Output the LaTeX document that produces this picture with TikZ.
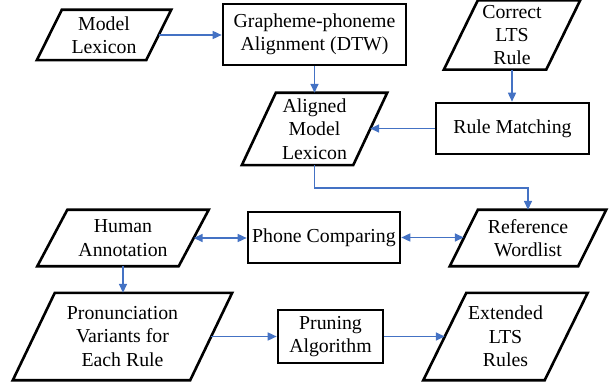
\documentclass[tikz,border=0pt]{standalone}
\usepackage{fontspec}
\setmainfont{Liberation Serif}
\usepackage{tikz}
\usetikzlibrary{arrows.meta}

\definecolor{flowblue}{RGB}{68,114,196}

\begin{document}
\begin{tikzpicture}[x=1pt,y=-1pt]
    \tikzstyle{txt}=[font=\fontsize{19.8}{23.3}\selectfont,align=center,inner sep=0pt]
    \tikzstyle{proc}=[txt,rectangle,draw,line width=2.6pt]
    \tikzstyle{io}=[txt,rectangle]
    \tikzstyle{ioedge}=[line width=2.6pt,line join=miter]
    \tikzstyle{flow}=[flowblue,line width=1.5pt,-{Triangle[length=9pt,width=8pt]}]
    \tikzstyle{both}=[flowblue,line width=1.5pt,{Triangle[length=9pt,width=8pt]}-{Triangle[length=9pt,width=8pt]}]
    \useasboundingbox (0,0) rectangle (611,385);
    % top part
    \node (ml)  at (104,35)      [io,minimum width=109,minimum height=50] {Model\\Lexicon};
    \node (gpa) at (314.5,34.5)  [proc,minimum width=183,minimum height=61] {Grapheme-phoneme\\Alignment (DTW)};
    \node (lts) at (512,35)      [io,minimum width=102,minimum height=69] {Correct\\LTS\\Rule};
    \node (alm) at (314.5,129)   [io,minimum width=111,minimum height=72] {Aligned\\Model\\Lexicon};
    \node (rm)  at (512.5,128.5) [proc,minimum width=153,minimum height=51] {Rule Matching};
    % bottom part
    \node (ha)  at (123,238)     [io,minimum width=141,minimum height=56] {Human\\Annotation};
    \node (pc)  at (324,237.5)   [proc,minimum width=152,minimum height=51] {Phone Comparing};
    \node (rw)  at (528,238)     [io,minimum width=128,minimum height=56] {Reference\\Wordlist};
    \node (pv)  at (122.5,336.5) [io,minimum width=177,minimum height=87] {Pronunciation\\Variants for\\Each Rule};
    \node (pa)  at (330.5,336.5) [proc,minimum width=105,minimum height=53] {Pruning\\Algorithm};
    \node (elr) at (505.5,336.5) [io,minimum width=121,minimum height=87] {Extended\\LTS\\Rules};
    % slanted input/output boxes
    \foreach \n/\s in {ml/12.5,lts/17,alm/17,ha/15,rw/14,pv/21,elr/21.5}
        \draw [ioedge] ([xshift=-\s pt]\n.south west) -- ([xshift=-\s pt]\n.south east)
            -- ([xshift=\s pt]\n.north east) -- ([xshift=\s pt]\n.north west) -- cycle;
    \coordinate (bend) at (0,188);
    \draw [flow] (ml.east) -- (ml.east -| gpa.west);
    \draw [flow] (gpa.south) -- (alm.north);
    \draw [flow] (lts.south) -- (lts.south |- rm.north);
    \draw [flow] (rm.west) -- (rm.west -| alm.east);
    \draw [flow] (alm.south) -- (alm.south |- bend) -| (rw.north);
    \draw [both] (ha.east) -- (ha.east -| pc.west);
    \draw [both] (pc.east) -- (pc.east -| rw.west);
    \draw [flow] (ha.south) -- (ha.south |- pv.north);
    \draw [flow] (pv.east) -- (pa.west);
    \draw [flow] (pa.east) -- (elr.west);
\end{tikzpicture}
\end{document}
